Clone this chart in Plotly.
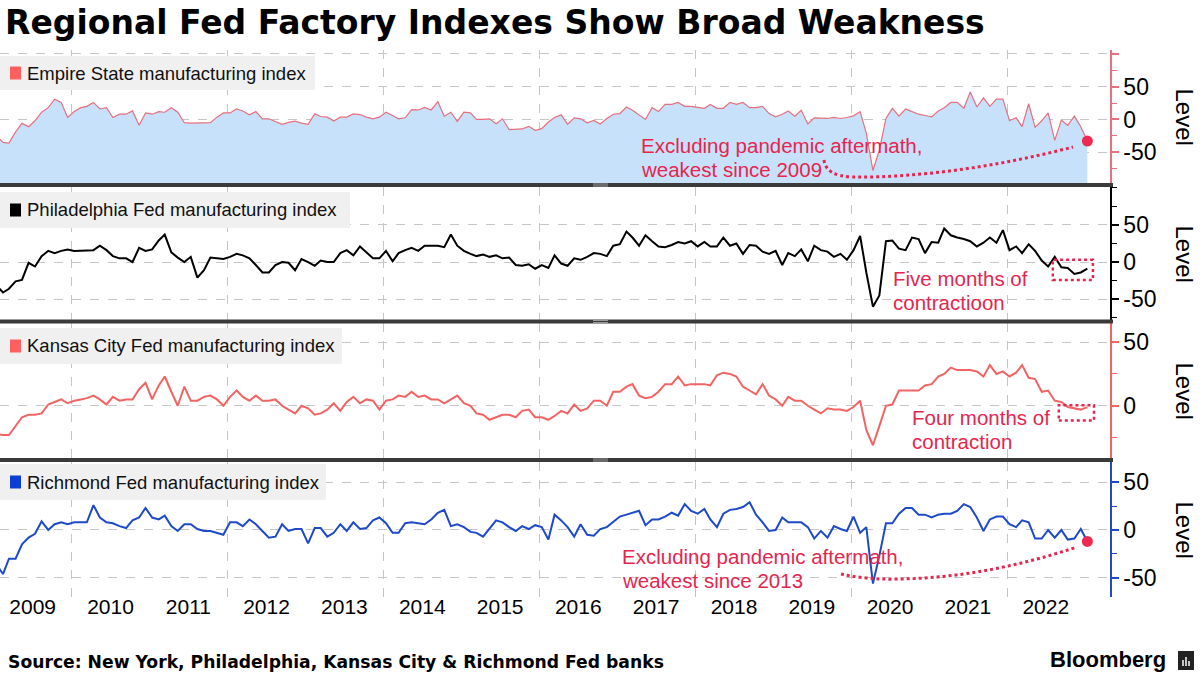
import pandas as pd
import plotly.graph_objects as go

# ---------------- DATA (monthly, Jan 2009 - Jan 2023) ----------------
start_month = "2009-01-01"
n_months = 169

empire = [
    -25, -35, -36, -19, -6, -11, -2, 11, 18, 31, 26, 3,        # 2009
    12, 18, 20, 26, 16, 18, 3, 8, 8, 13, -9, 10,               # 2010
    8, 12, 11, 18, 11, -5, -5.5, -5.5, -5.5, -5, 3.5, 10,      # 2011
    10, 16, 13, 7, 12, 1, 1, -3, -7.5, -4.5, -2.5, -5.5,       # 2012
    -7.5, 8.5, 4.5, 3.5, -2.5, 3.5, 3.5, 8.5, 7.5, 3.5, 1, 3.5,  # 2013
    11, 6, 1, 2.5, 15, 14.5, 18.5, 14.5, 27, 5, 11, -3,        # 2014
    11, 10, 0, 0, 1, -6.5, 1, -15.5, -15, -14.5, -10.5, -16.5,  # 2015
    -14, -4, 3, 7, -7.5, 2.5, 1, -5, -1.5, -7, 1.5, 8,         # 2016
    9, 19, 14, 7, 0, 18, 12, 23, 23, 26, 20, 20,               # 2017
    18, 17, 23, 17, 17, 26, 23, 26, 18, 18, 20, 9,             # 2018
    4, 8, 13, 5, 14, -7, 2.5, 2.5, 1.5, 3, 1.5, 3,             # 2019
    5.5, 12, -21, -78, -47, 1.5, 17, 5, 16, 12, 8, 6,          # 2020
    4, 13, 18, 26, 26, 17, 42, 19, 33, 20, 31, 31,             # 2021
    -2, 2.5, -11, 24, -12, -2, 10, -32, -1, -9, 5, -11,        # 2022
    -33,                                                       # 2023
]

philly = [
    -31, -41, -36, -26, -24, -1, -6, 8, 15, 12, 15, 17,
    15, 15, 15, 16, 22, 16, 8, 5, 5, 0, 19, 15,
    17, 29, 37, 13, 6, 0, 7, -21, -11, 6, 5, 4,
    7, 11, 9, 5, -4, -14, -14, -4, 0, -1, -11, 4,
    0, -5, 2, 0, 0, 12, 16, 9, 21, 13, 5, 5,
    15, 1, 12, 16, 19, 15, 22, 22, 22, 20, 37, 22,
    15, 11, 8, 10, 7, 9, 5, 6, -4, -5, -3, -9,
    -4, -8, 9, -2, -5, 5, 3, 7, 12, 11, 8, 22,
    24, 41, 33, 22, 36, 28, 21, 20, 23, 27, 25, 28,
    21, 27, 21, 21, 33, 22, 25, 11, 23, 22, 14, 11,
    15, -4, 12, 8, 17, 1, 22, 16, 14, 7, 11, 3,
    16, 35, -14, -60, -45, 28, 29, 18, 16, 33, 31, 12,
    27, 26, 45, 36, 33, 31, 28, 21, 26, 33, 26, 43,
    16, 21, 12, 24, 15, 2, -6, 7, -7, -8, -16, -14,
    -9,
]

kansas = [
    -22, -23, -23, -16, -9, -7, -7, -6, 1, 3, 5, 2,
    4, 5, 6, 8, 5, 1, 7, 4, 5, 5, 13, 18,
    5, 16, 23, 11, 0, 15, 4, 4, 7, 8, 5, 0,
    7, 12, 7, 4, 8, 4, 4, 5, 0, -3, -6, 0,
    -2, -7, -6, -3, 2, -4, 3, 7, 2, 5, 4, -3,
    4, 5, 8, 7, 11, 7, 8, 5, 5, 2, 5, 8,
    2, 0, -6, -7, -11, -9, -7, -7, -9, -4, -3, -9,
    -9, -11, -8, -4, -6, 1, -4, -2, 4, 4, 0, 11,
    11, 15, 17, 8, 6, 7, 11, 17, 17, 23, 16, 17,
    17, 17, 16, 24, 26, 25, 23, 15, 12, 9, 17, 8,
    5, 0, 7, 4, 4, 0, -3, -6, -2, -3, -3, -4,
    -1, 4, -19, -31, -16, 0, 1, 12, 12, 12, 12, 16,
    17, 23, 25, 30, 28, 28, 28, 27, 23, 32, 25, 27,
    23, 26, 32, 22, 21, 11, 12, 4, 3, -1, -2, -3,
    -1,
]

richmond = [
    -36, -46, -30, -30, -15, -8, -4, 9, 0, 6, 8, 6,
    8, 8, 8, 26, 13, 8, 7, 4, 2, 10, 13, 23,
    13, 11, 15, 4, -1, 6, 6, 1, -1, -1, -3, -5,
    8, 8, 4, 11, 6, -1, -8, -7, 6, -1, 1, 1,
    -14, 2, 2, -7, -3, 6, -1, 8, 1, 2, 10, 13,
    7, -3, -3, 7, 8, 7, 6, 11, 18, 21, 4, 6,
    3, -2, -3, -7, 2, 10, 8, 3, -1, 4, 1, 5,
    3, -10, 16, 10, 3, -7, 6, -5, -6, 1, 3, 8,
    14, 16, 18, 20, 5, 11, 11, 14, 18, 15, 27, 20,
    17, 22, 11, 3, 17, 21, 22, 24, 29, 16, 8, -1,
    0, 13, 8, 8, 8, 3, -9, -1, -8, 4, 1, -1,
    14, -3, 3, -56, -27, 7, 7, 17, 23, 23, 16, 16,
    13, 16, 17, 17, 20, 27, 24, 13, -1, 11, 14, 14,
    6, 3, 10, 8, -9, -9, 0, -8, 0, -10, -9, 1,
    -12,
]

series_names = [
    "Empire State manufacturing index",
    "Philadelphia Fed manufacturing index",
    "Kansas City Fed manufacturing index",
    "Richmond Fed manufacturing index",
]
year_labels = list(range(2009, 2023))
grid_years = list(range(2010, 2023, 2))

# ---------------- STYLE / LAYOUT HELPERS ----------------
W, H = 1200, 675
PL, PR, PT, PB = 0, 1110, 50, 597          # plot area in pixels


def fx(x):
    return (x - PL) / (PR - PL)


def fy(y):
    return (PB - y) / (PB - PT)


XSTART, XEND = pd.Timestamp("2009-01-29"), pd.Timestamp("2023-04-28")
xrange_ = [XSTART.strftime("%Y-%m-%d"), XEND.strftime("%Y-%m-%d")]


def pxdate(x):
    return (XSTART + (XEND - XSTART) * (x / (PR - PL))).strftime("%Y-%m-%d")


months = pd.date_range(start_month, periods=n_months, freq="MS") + pd.Timedelta(days=11)

RED = "#e4264f"
C_EMP = "#e6707f"
C_EMP_LEG = "#ff5f5f"
C_PHL = "#000000"
C_KC = "#f26464"
C_RIC = "#1e49c8"
GRID = "#c6c6c6"

panels = [
    dict(dom=(183, 50), rng=[-97, 106], tv=[-50, 0, 50, 100], tt=["-50", "0", "50", ""], col=C_EMP),
    dict(dom=(320, 187), rng=[-78, 101], tv=[-50, 0, 50], tt=["-50", "0", "50"], col=C_PHL),
    dict(dom=(458, 323), rng=[-41, 65], tv=[0, 50], tt=["0", "50"], col=C_KC),
    dict(dom=(597, 462), rng=[-70, 71], tv=[-50, 0, 50], tt=["-50", "0", "50"], col=C_RIC),
]

fig = go.Figure()

# Empire: filled area down to bottom of its panel
fig.add_trace(go.Scatter(x=months, y=[panels[0]["rng"][0]] * n_months, mode="lines",
                         line=dict(width=0, color="rgba(0,0,0,0)"), hoverinfo="skip",
                         showlegend=False, xaxis="x", yaxis="y"))
fig.add_trace(go.Scatter(x=months, y=empire, mode="lines", fill="tonexty",
                         fillcolor="#c8e1fa", line=dict(color=C_EMP, width=1.2),
                         name=series_names[0], showlegend=False, xaxis="x", yaxis="y"))
fig.add_trace(go.Scatter(x=months, y=philly, mode="lines", line=dict(color=C_PHL, width=2),
                         name=series_names[1], showlegend=False, xaxis="x2", yaxis="y2"))
fig.add_trace(go.Scatter(x=months, y=kansas, mode="lines", line=dict(color=C_KC, width=2),
                         name=series_names[2], showlegend=False, xaxis="x3", yaxis="y3"))
fig.add_trace(go.Scatter(x=months, y=richmond, mode="lines", line=dict(color=C_RIC, width=2),
                         name=series_names[3], showlegend=False, xaxis="x4", yaxis="y4"))
# end-point markers
fig.add_trace(go.Scatter(x=[months[-1]], y=[empire[-1]], mode="markers",
                         marker=dict(color="#ee2a52", size=11), showlegend=False,
                         xaxis="x", yaxis="y"))
fig.add_trace(go.Scatter(x=[months[-1]], y=[richmond[-1]], mode="markers",
                         marker=dict(color="#ee2a52", size=11), showlegend=False,
                         xaxis="x4", yaxis="y4"))

layout = dict(
    width=W, height=H,
    margin=dict(l=PL, r=W - PR, t=PT, b=H - PB),
    paper_bgcolor="white", plot_bgcolor="white",
    showlegend=False,
    font=dict(family="Liberation Sans, Arial, sans-serif", color="#000"),
)

grid_dates = [f"{y}-01-01" for y in grid_years]
for k, p in enumerate(panels):
    sfx = "" if k == 0 else str(k + 1)
    xa = dict(
        domain=[0, 1], range=xrange_, type="date", anchor="y" + sfx,
        showgrid=False, zeroline=False, showline=False, ticks="",
        minor=dict(tickmode="array", tickvals=grid_dates, showgrid=True,
                   gridcolor=GRID, griddash="dash", gridwidth=1, ticks=""),
    )
    if k == 3:
        xa.update(tickmode="array", tickvals=[f"{y}-07-01" for y in year_labels],
                  ticktext=[str(y) for y in year_labels], showticklabels=True,
                  ticklabelstandoff=-5,
                  tickfont=dict(size=21, color="#000"))
    else:
        xa.update(showticklabels=False)
        xa["matches"] = "x4"
    ya = dict(
        domain=[fy(p["dom"][0]), fy(p["dom"][1])], range=p["rng"], anchor="x" + sfx,
        side="right", tickmode="array", tickvals=p["tv"], ticktext=p["tt"],
        showgrid=True, gridcolor=GRID, griddash="dash", gridwidth=1, zeroline=False,
        showline=True, linecolor=p["col"], linewidth=1.5,
        ticks="outside", ticklen=7, tickcolor=p["col"], tickwidth=1.5,
        tickfont=dict(size=23, color="#000"),
        minor=dict(tickmode="linear", tick0=0, dtick=25, ticks="outside", ticklen=5,
                   tickcolor=p["col"], tickwidth=1, showgrid=False),
    )
    layout["xaxis" + sfx] = xa
    layout["yaxis" + sfx] = ya

fig.update_layout(**layout)

shapes = []
annotations = []

# separators between panels
for ys in (185, 321.5, 460):
    shapes.append(dict(type="line", xref="paper", yref="paper", x0=fx(0), x1=fx(1113),
                       y0=fy(ys), y1=fy(ys), line=dict(color="#3a3a3a", width=4), layer="above"))
    for dy in (-1, 1):
        shapes.append(dict(type="line", xref="paper", yref="paper", x0=fx(593), x1=fx(608),
                           y0=fy(ys + dy), y1=fy(ys + dy),
                           line=dict(color="#9a9a9a", width=1), layer="above"))

# legend boxes
leg = [
    (series_names[0], C_EMP_LEG, 0, 315, 56, 90),
    (series_names[1], "#000000", 0, 350, 192, 228),
    (series_names[2], C_EMP_LEG, 0, 342, 328, 364),
    (series_names[3], "#0b3fd3", 0, 326, 464, 500),
]
for name, col, x0, x1, y0, y1 in leg:
    shapes.append(dict(type="rect", xref="paper", yref="paper", x0=fx(x0), x1=fx(x1),
                       y0=fy(y1), y1=fy(y0), fillcolor="#f0f0f0", line=dict(width=0),
                       layer="above"))
    yc = (y0 + y1) / 2
    shapes.append(dict(type="rect", xref="paper", yref="paper", x0=fx(10), x1=fx(21),
                       y0=fy(yc + 6.5), y1=fy(yc - 6.5), fillcolor=col, line=dict(width=0),
                       layer="above"))
    annotations.append(dict(text=name, xref="paper", yref="paper", x=fx(25), y=fy(yc),
                            xanchor="left", yanchor="middle", showarrow=False,
                            font=dict(size=18.5, color="#111")))

# "Level" axis titles
for p in panels:
    yc = (p["dom"][0] + p["dom"][1]) / 2
    annotations.append(dict(text="Level", xref="paper", yref="paper", x=fx(1184), y=fy(yc),
                            textangle=90, showarrow=False, xanchor="center", yanchor="middle",
                            font=dict(size=24, color="#000")))

# call-out texts (one annotation per line)
callouts = [
    (["Excluding pandemic aftermath,", "weakest since 2009"], 639, 145),
    (["Five months of", "contractioon"], 891, 278),
    (["Four months of", "contraction"], 910, 417),
    (["Excluding pandemic aftermath,", "weakest since 2013"], 620, 556),
]
for lines, x, y in callouts:
    for j, txt in enumerate(lines):
        annotations.append(dict(text=txt, xref="paper", yref="paper", x=fx(x), y=fy(y + 24 * j),
                                xanchor="left", yanchor="middle", align="left", showarrow=False,
                                font=dict(size=20.5, color=RED)))


def ppath(cmds):
    out = []
    for c in cmds:
        if isinstance(c, str):
            out.append(c)
        else:
            out.append(f"{fx(c[0]):.5f},{fy(c[1]):.5f}")
    return " ".join(out)


curve1 = ppath(["M", (824, 160), "Q", (826, 176), (852, 177),
                "C", (920, 178), (1000, 166), (1073, 147)])
curve4 = ppath(["M", (841, 574), "Q", (868, 580), (900, 579),
                "C", (960, 578), (1020, 566), (1077, 547)])
for pth in (curve1, curve4):
    shapes.append(dict(type="path", xref="paper", yref="paper", path=pth,
                       line=dict(color=RED, width=3, dash="dot"), layer="above"))

# dotted boxes around recent contraction months
shapes.append(dict(type="rect", xref="x2", yref="y2", x0=pxdate(1053), x1=pxdate(1093),
                   y0=-24, y1=3, line=dict(color=RED, width=2.5, dash="dot"),
                   fillcolor="rgba(0,0,0,0)", layer="above"))
shapes.append(dict(type="rect", xref="x3", yref="y3", x0=pxdate(1059), x1=pxdate(1094),
                   y0=-11.5, y1=0.5, line=dict(color=RED, width=2.5, dash="dot"),
                   fillcolor="rgba(0,0,0,0)", layer="above"))

# title, source, logo
annotations.append(dict(text="<b>Regional Fed Factory Indexes Show Broad Weakness</b>",
                        xref="paper", yref="paper", x=fx(3), y=fy(23), xanchor="left",
                        yanchor="middle", showarrow=False,
                        font=dict(family="DejaVu Sans, Verdana, sans-serif", size=33, color="#000")))
annotations.append(dict(text="<b>Source: New York, Philadelphia, Kansas City & Richmond Fed banks</b>",
                        xref="paper", yref="paper", x=fx(6), y=fy(662), xanchor="left",
                        yanchor="middle", showarrow=False,
                        font=dict(family="DejaVu Sans, Verdana, sans-serif", size=17.2, color="#000")))
annotations.append(dict(text="<b>Bloomberg</b>", xref="paper", yref="paper", x=fx(1168), y=fy(660),
                        xanchor="right", yanchor="middle", showarrow=False,
                        font=dict(family="Liberation Sans, Arial, sans-serif", size=22, color="#000")))
shapes.append(dict(type="rect", xref="paper", yref="paper", x0=fx(1178), x1=fx(1194),
                   y0=fy(670), y1=fy(651), fillcolor="#222", line=dict(width=0)))
for bx, btop in ((1183, 660), (1186, 657), (1189, 661)):
    shapes.append(dict(type="line", xref="paper", yref="paper", x0=fx(bx), x1=fx(bx),
                       y0=fy(666), y1=fy(btop), line=dict(color="white", width=1.5)))

fig.update_layout(shapes=shapes, annotations=annotations)
fig.write_html("out.html", config={"displayModeBar": False},
               post_script="document.body.style.margin='0';document.body.style.padding='0';")
